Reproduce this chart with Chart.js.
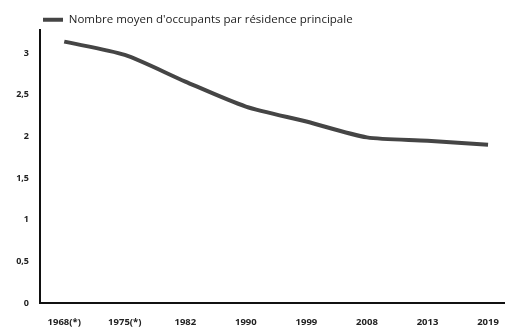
<!DOCTYPE html>
<html>
<head>
<meta charset="utf-8">
<script src="https://cdn.jsdelivr.net/npm/chart.js@4.4.0/dist/chart.umd.min.js"></script>
<style>
    html, body { margin: 0; padding: 0; background: #fff; }
    #wrap { width: 505px; height: 327px; }
</style>
</head>
<body>
<div id="wrap"><canvas id="chartOccupants"></canvas></div>
<script>
const years = ['1968(*)', '1975(*)', '1982', '1990', '1999', '2008', '2013', '2019'];
const occupants = [3.14, 2.98, 2.66, 2.36, 2.18, 1.99, 1.95, 1.90];
const yTicks = [0, 0.5, 1, 1.5, 2, 2.5, 3];

function LineChartOccupants(canvas, options) {
    const ctx = canvas.getContext('2d');

    new Chart(ctx, {
        type: 'line',
        data: {
            datasets: [{
                label: options.label,
                data: options.data.map((v, i) => ({ x: i, y: v })),
                borderColor: '#454545',
                backgroundColor: '#454545',
                borderWidth: 4,
                pointRadius: 0,
                tension: 0.25
            }]
        },
        options: {
            responsive: true,
            maintainAspectRatio: false,
            animation: false,
            layout: {
                padding: { top: 11, right: 0, left: 0, bottom: 0 }
            },
            plugins: {
                legend: {
                    align: 'start',
                    fullSize: false,
                    maxHeight: 19,
                    labels: {
                        usePointStyle: true,
                        pointStyle: 'line',
                        pointStyleWidth: 20,
                        color: '#222',
                        padding: 3,
                        font: { family: 'Open Sans', size: 11.5 }
                    }
                },
                tooltip: { enabled: false }
            },
            scales: {
                x: {
                    type: 'linear',
                    min: -0.4,
                    max: 7.28,
                    afterBuildTicks: scale => {
                        scale.ticks = options.labels.map((_, i) => ({ value: i }));
                    },
                    afterFit: scale => {
                        scale.height = 24;
                        // the axis runs to the canvas edge, no room kept for the last label
                        scale.paddingLeft = 0;
                        scale.paddingRight = 0;
                    },
                    grid: { display: false, drawTicks: false },
                    border: { display: true, color: '#111', width: 2 },
                    ticks: {
                        color: '#222',
                        padding: 14,
                        maxRotation: 0,
                        autoSkip: false,
                        font: { family: 'Open Sans', size: 9.5, weight: 'bold' },
                        callback: value => options.labels[value]
                    }
                },
                y: {
                    min: 0,
                    max: 3.28,
                    afterBuildTicks: scale => {
                        scale.ticks = options.ticks.map(v => ({ value: v }));
                    },
                    afterFit: scale => { scale.width = 40; },
                    grid: { display: false, drawTicks: false },
                    border: { display: true, color: '#111', width: 2 },
                    ticks: {
                        color: '#222',
                        padding: 11,
                        font: { family: 'Open Sans', size: 9, weight: 'bold' },
                        callback: value => String(value).replace('.', ',')
                    }
                }
            }
        }
    });
}

LineChartOccupants(document.getElementById('chartOccupants'), {
    label: "Nombre moyen d'occupants par résidence principale",
    labels: years,
    data: occupants,
    ticks: yTicks
});
</script>
</body>
</html>
